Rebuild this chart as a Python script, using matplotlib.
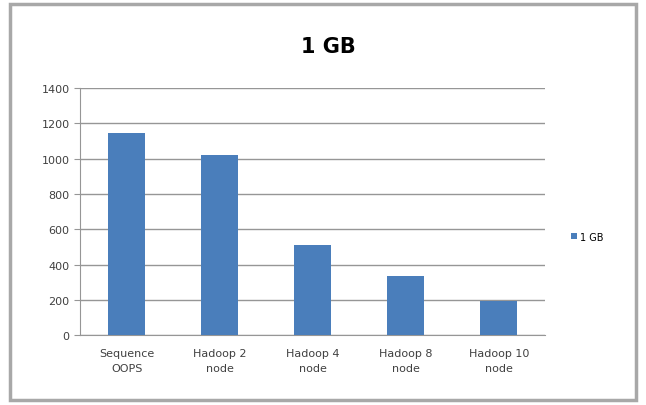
import matplotlib.pyplot as plt
import numpy as np
from matplotlib.patches import Rectangle

categories = ['Sequence\nOOPS', 'Hadoop 2\nnode', 'Hadoop 4\nnode', 'Hadoop 8\nnode', 'Hadoop 10\nnode']
values_1gb = [1145, 1020, 510, 335, 195]
yticks = [0, 200, 400, 600, 800, 1000, 1200, 1400]

fig = plt.figure(figsize=(6.46, 4.06), dpi=100)
fig.patches.append(Rectangle((0.015, 0.012), 0.97, 0.975, transform=fig.transFigure,
                             fill=False, edgecolor='#a8a8a8', linewidth=2.5))

ax = fig.add_axes([0.124, 0.172, 0.72, 0.609])
x = np.arange(len(categories))
ax.bar(x, values_1gb, width=0.4, color='#4a7ebb', label='1 GB', zorder=3)

ax.set_ylim(0, 1400)
ax.set_xlim(-0.5, len(categories) - 0.5)
ax.set_yticks(yticks)
ax.set_yticklabels([str(t) for t in yticks], fontsize=8, color='#404040')
ax.set_xticks(x)
ax.set_xticklabels(categories, fontsize=8, color='#404040', linespacing=1.7)
ax.yaxis.grid(True, color='#969696', linewidth=1, zorder=0)
for s in ['top', 'right']:
    ax.spines[s].set_visible(False)
ax.spines['left'].set_color('#969696')
ax.spines['bottom'].set_color('#969696')
ax.tick_params(axis='y', length=4, color='#969696')
ax.tick_params(axis='x', length=0, pad=9)

fig.text(0.508, 0.885, '1 GB', ha='center', va='center', fontsize=15, fontweight='bold')
fig.legend(loc='center left', bbox_to_anchor=(0.87, 0.415), frameon=False, fontsize=7,
           handlelength=0.6, handleheight=0.6, handletextpad=0.4)

fig.savefig('out.png', dpi=100)
